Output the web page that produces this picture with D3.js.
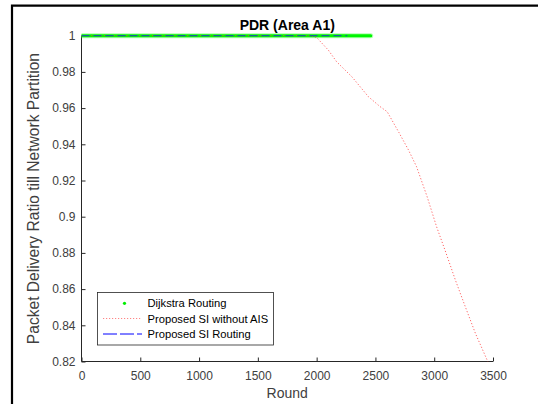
<!DOCTYPE html>
<html>
<head>
<meta charset="utf-8">
<script src="https://cdn.jsdelivr.net/npm/d3@7"></script>
<style>
  html, body { margin: 0; padding: 0; background: #fff; }
  svg { display: block; font-family: Arial, "Liberation Sans", Helvetica, sans-serif; }
</style>
</head>
<body>
<svg id="chart" width="538" height="404"></svg>
<script>
// PDR per round for three routing schemes (Area A1)
const dijkstraRounds = [0, 2460];
const dijkstraPDR    = [1, 1];

const siNoAisRounds = [0, 1950, 2000, 2100, 2170, 2300, 2440, 2540, 2600, 2700, 2780, 2850,
                       2940, 3020, 3100, 3180, 3260, 3350, 3450, 3490];
const siNoAisPDR    = [1, 1, 0.999, 0.992, 0.9856, 0.9773, 0.9663, 0.9608, 0.958, 0.9465, 0.937, 0.9276,
                       0.911, 0.8945, 0.880, 0.865, 0.851, 0.8356, 0.8208, 0.815];

const siRounds = [0, 2260];
const siPDR    = [1, 1];

const xTicks = [0, 500, 1000, 1500, 2000, 2500, 3000, 3500];
const yTicks = [0.82, 0.84, 0.86, 0.88, 0.9, 0.92, 0.94, 0.96, 0.98, 1];

const legendLabels = ["Dijkstra Routing", "Proposed SI without AIS", "Proposed SI Routing"];

const svg = d3.select("#chart");
const axisColor = "#262626";
const textColor = "#404040";

const plot = { left: 81.5, right: 493, top: 35.7, bottom: 361.5 };

const x = d3.scaleLinear().domain([0, 3500]).range([plot.left, plot.right]);
const y = d3.scaleLinear().domain([0.82, 1]).range([plot.bottom, plot.top]);

// figure frame (top and left edges)
svg.append("path")
  .attr("d", `M12,404 L12,5.7 L538,5.7`)
  .attr("fill", "none").attr("stroke", "#000").attr("stroke-width", 2.2);

svg.append("defs").append("clipPath").attr("id", "plotClip")
  .append("rect")
  .attr("x", plot.left).attr("y", plot.top - 4)
  .attr("width", plot.right - plot.left + 2).attr("height", plot.bottom - plot.top + 4);

// axes with inward ticks
const xAxis = d3.axisBottom(x).tickValues(xTicks).tickSize(-4).tickPadding(8).tickFormat(d3.format("d"));
const yAxis = d3.axisLeft(y).tickValues(yTicks).tickSize(-4).tickPadding(6).tickFormat(d => String(+d.toFixed(2)));

const gx = svg.append("g").attr("transform", `translate(0,${plot.bottom})`).call(xAxis);
const gy = svg.append("g").attr("transform", `translate(${plot.left},0)`).call(yAxis);

[gx, gy].forEach(g => {
  g.select(".domain").attr("stroke", axisColor).attr("stroke-width", 1)
    .attr("d", g === gx ? `M${plot.left},0H${plot.right}` : `M0,${plot.top}V${plot.bottom}`);
  g.selectAll(".tick line").attr("stroke", axisColor).attr("stroke-width", 1);
  g.selectAll(".tick text").attr("fill", textColor).style("font-size", "12px")
    .style("font-family", "Arial, 'Liberation Sans', sans-serif");
});
gx.selectAll(".tick text").attr("dy", "0.9em");

// title and axis labels
svg.append("text").attr("x", (plot.left + plot.right) / 2).attr("y", 30)
  .attr("text-anchor", "middle").attr("font-weight", "bold").attr("font-size", 14).attr("fill", "#000")
  .text("PDR (Area A1)");

svg.append("text").attr("x", (plot.left + plot.right) / 2).attr("y", 398)
  .attr("text-anchor", "middle").attr("font-size", 14).attr("fill", textColor)
  .text("Round");

svg.append("text")
  .attr("transform", `translate(39,${(plot.top + plot.bottom) / 2}) rotate(-90)`)
  .attr("text-anchor", "middle").attr("font-size", 15.6).attr("fill", textColor)
  .text("Packet Delivery Ratio till Network Partition");

// series
const line = d3.line().x(d => x(d[0])).y(d => y(d[1]));
const series = svg.append("g").attr("clip-path", "url(#plotClip)");

const dijkstraData = d3.zip(dijkstraRounds, dijkstraPDR);
series.append("path").datum(dijkstraData).attr("d", line)
  .attr("fill", "none").attr("stroke", "#66ff66").attr("stroke-width", 5).attr("stroke-opacity", 0.5)
  .attr("stroke-linecap", "round");
series.append("path").datum(dijkstraData).attr("d", line)
  .attr("fill", "none").attr("stroke", "#00f500").attr("stroke-width", 3)
  .attr("stroke-linecap", "round");

series.append("path").datum(d3.zip(siNoAisRounds, siNoAisPDR)).attr("d", line)
  .attr("fill", "none").attr("stroke", "#ff3333").attr("stroke-width", 1)
  .attr("stroke-dasharray", "1.2,2").attr("stroke-opacity", 0.75);

series.append("path").datum(d3.zip(siRounds, siPDR)).attr("d", line)
  .attr("fill", "none").attr("stroke", "#1a5fa0").attr("stroke-width", 1.3)
  .attr("stroke-dasharray", "8,4");

// legend
const lg = svg.append("g");
lg.append("rect").attr("x", 97.5).attr("y", 292.5).attr("width", 176).attr("height", 52.5)
  .attr("fill", "#fff").attr("stroke", axisColor).attr("stroke-width", 0.8);

const rowY = [303.3, 318.5, 334];
const sx0 = 103, sx1 = 142;

lg.append("circle").attr("cx", (sx0 + sx1) / 2 + 2).attr("cy", rowY[0]).attr("r", 1.6).attr("fill", "#00ee00");
lg.append("line").attr("x1", sx0).attr("x2", sx1).attr("y1", rowY[1]).attr("y2", rowY[1])
  .attr("stroke", "#ff3333").attr("stroke-width", 1).attr("stroke-dasharray", "1.2,1.8").attr("stroke-opacity", 0.6);
lg.append("line").attr("x1", sx0).attr("x2", sx1).attr("y1", rowY[2]).attr("y2", rowY[2])
  .attr("stroke", "#0000ff").attr("stroke-width", 1).attr("stroke-dasharray", "14,3");

legendLabels.forEach((t, i) => {
  lg.append("text").attr("x", 147.5).attr("y", rowY[i]).attr("dy", "0.36em")
    .attr("font-size", 11.2).attr("fill", "#000").text(t);
});
</script>
</body>
</html>
